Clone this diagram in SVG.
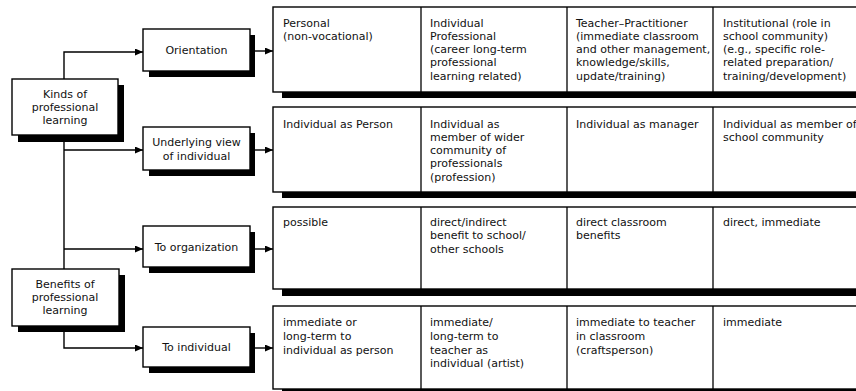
<svg xmlns="http://www.w3.org/2000/svg" width="856" height="391" viewBox="0 0 856 391">
  <defs>
    <marker id="arrow" markerUnits="userSpaceOnUse" markerWidth="9" markerHeight="8" refX="8" refY="3.5" orient="auto">
      <path d="M0,0 L8,3.5 L0,7 z" fill="#000"/>
    </marker>
    <style>
      text { font-family: "DejaVu Sans", "Liberation Sans", sans-serif; font-size: 11px; fill: #111; }
      .c { text-anchor: middle; }
      .box { fill: #fff; stroke: #000; stroke-width: 1.4; }
      .shadow { fill: #000; }
      .div { stroke: #000; stroke-width: 1.3; }
      .conn { fill: none; stroke: #000; stroke-width: 1.4; }
    </style>
  </defs>
  <rect width="856" height="391" fill="#fff"/>

  <!-- connectors -->
  <g id="connectors">
    <path class="conn" d="M64,79 V52 H143" marker-end="url(#arrow)"/>
    <path class="conn" d="M64,135 V269"/>
    <path class="conn" d="M64,150 H143" marker-end="url(#arrow)"/>
    <path class="conn" d="M64,249 H143" marker-end="url(#arrow)"/>
    <path class="conn" d="M64,326 V348 H143" marker-end="url(#arrow)"/>
    <path class="conn" d="M255,51 H273" marker-end="url(#arrow)"/>
    <path class="conn" d="M255,150 H273" marker-end="url(#arrow)"/>
    <path class="conn" d="M255,249 H273" marker-end="url(#arrow)"/>
    <path class="conn" d="M255,348 H273" marker-end="url(#arrow)"/>
  </g>

  <!-- root nodes -->
  <g id="kinds">
    <rect class="shadow" x="18" y="85" width="106" height="57"/>
    <rect class="box" x="12" y="79" width="106" height="56"/>
    <text class="c" x="65" y="98">Kinds of</text>
    <text class="c" x="65" y="111">professional</text>
    <text class="c" x="65" y="124">learning</text>
  </g>
  <g id="benefits">
    <rect class="shadow" x="18" y="275" width="107" height="57"/>
    <rect class="box" x="12" y="269" width="107" height="57"/>
    <text class="c" x="65" y="288">Benefits of</text>
    <text class="c" x="65" y="301">professional</text>
    <text class="c" x="65" y="314">learning</text>
  </g>

  <!-- category nodes -->
  <g id="orientation">
    <rect class="shadow" x="149" y="35" width="106" height="42"/>
    <rect class="box" x="143" y="29" width="107" height="42"/>
    <text class="c" x="196.5" y="54">Orientation</text>
  </g>
  <g id="underlying-view">
    <rect class="shadow" x="149" y="133" width="106" height="43"/>
    <rect class="box" x="143" y="127" width="107" height="43"/>
    <text class="c" x="196.5" y="146">Underlying view</text>
    <text class="c" x="196.5" y="160">of individual</text>
  </g>
  <g id="to-organization">
    <rect class="shadow" x="149" y="232" width="106" height="41"/>
    <rect class="box" x="143" y="226" width="107" height="41"/>
    <text class="c" x="196.5" y="251">To organization</text>
  </g>
  <g id="to-individual">
    <rect class="shadow" x="149" y="333" width="106" height="40"/>
    <rect class="box" x="143" y="327" width="107" height="40"/>
    <text class="c" x="196.5" y="351">To individual</text>
  </g>

  <!-- table rows -->
  <g id="row-orientation">
    <rect class="shadow" x="282" y="13" width="600" height="85"/>
    <rect class="box" x="273" y="7" width="600" height="85"/>
    <line class="div" x1="421" y1="7" x2="421" y2="92"/>
    <line class="div" x1="567" y1="7" x2="567" y2="92"/>
    <line class="div" x1="713" y1="7" x2="713" y2="92"/>
    <text x="283" y="26.5">Personal</text>
    <text x="283" y="39.8">(non-vocational)</text>
    <text x="430" y="26.5">Individual</text>
    <text x="430" y="39.8">Professional</text>
    <text x="430" y="53.1">(career long-term</text>
    <text x="430" y="66.4">professional</text>
    <text x="430" y="79.7">learning related)</text>
    <text x="576" y="26.5">Teacher–Practitioner</text>
    <text x="576" y="39.8">(immediate classroom</text>
    <text x="576" y="53.1">and other management,</text>
    <text x="576" y="66.4">knowledge/skills,</text>
    <text x="576" y="79.7">update/training)</text>
    <text x="723" y="26.5">Institutional (role in</text>
    <text x="723" y="39.8">school community)</text>
    <text x="723" y="53.1">(e.g., specific role-</text>
    <text x="723" y="66.4">related preparation/</text>
    <text x="723" y="79.7">training/development)</text>
  </g>
  <g id="row-view">
    <rect class="shadow" x="282" y="113" width="600" height="85"/>
    <rect class="box" x="273" y="107" width="600" height="85"/>
    <line class="div" x1="421" y1="107" x2="421" y2="192"/>
    <line class="div" x1="567" y1="107" x2="567" y2="192"/>
    <line class="div" x1="713" y1="107" x2="713" y2="192"/>
    <text x="283" y="127.5">Individual as Person</text>
    <text x="430" y="127.5">Individual as</text>
    <text x="430" y="140.8">member of wider</text>
    <text x="430" y="154.1">community of</text>
    <text x="430" y="167.4">professionals</text>
    <text x="430" y="180.7">(profession)</text>
    <text x="576" y="127.5">Individual as manager</text>
    <text x="723" y="127.5">Individual as member of</text>
    <text x="723" y="140.8">school community</text>
  </g>
  <g id="row-organization">
    <rect class="shadow" x="282" y="213" width="600" height="83"/>
    <rect class="box" x="273" y="207" width="600" height="82"/>
    <line class="div" x1="421" y1="207" x2="421" y2="289"/>
    <line class="div" x1="567" y1="207" x2="567" y2="289"/>
    <line class="div" x1="713" y1="207" x2="713" y2="289"/>
    <text x="283" y="225.5">possible</text>
    <text x="430" y="225.5">direct/indirect</text>
    <text x="430" y="239.3">benefit to school/</text>
    <text x="430" y="253.1">other schools</text>
    <text x="576" y="225.5">direct classroom</text>
    <text x="576" y="239.3">benefits</text>
    <text x="723" y="225.5">direct, immediate</text>
  </g>
  <g id="row-individual">
    <rect class="shadow" x="282" y="312" width="600" height="83"/>
    <rect class="box" x="273" y="306" width="600" height="83"/>
    <line class="div" x1="421" y1="306" x2="421" y2="389"/>
    <line class="div" x1="567" y1="306" x2="567" y2="389"/>
    <line class="div" x1="713" y1="306" x2="713" y2="389"/>
    <text x="283" y="326">immediate or</text>
    <text x="283" y="339.8">long-term to</text>
    <text x="283" y="353.6">individual as person</text>
    <text x="430" y="326">immediate/</text>
    <text x="430" y="339.8">long-term to</text>
    <text x="430" y="353.6">teacher as</text>
    <text x="430" y="367.4">individual (artist)</text>
    <text x="576" y="326">immediate to teacher</text>
    <text x="576" y="339.8">in classroom</text>
    <text x="576" y="353.6">(craftsperson)</text>
    <text x="723" y="326">immediate</text>
  </g>
</svg>
